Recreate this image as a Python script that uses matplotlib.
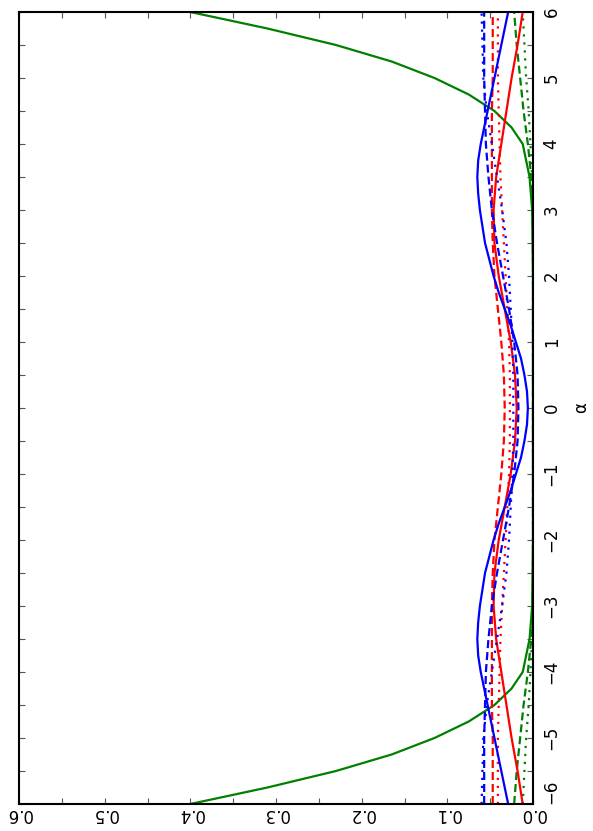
import numpy as np
import matplotlib.pyplot as plt
from matplotlib.ticker import MultipleLocator

# alpha grid shared by most curves
alpha = [-6, -5.5, -5, -4.5, -4, -3.5, -3, -2.5, -2, -1.5, -1, -0.5, 0,
         0.5, 1, 1.5, 2, 2.5, 3, 3.5, 4, 4.5, 5, 5.5, 6]

# finer grid for the steep green curve
alpha_g = [-6, -5.75, -5.5, -5.25, -5, -4.75, -4.5, -4.25, -4, -3.5, -3, -2.5, -2, -1, 0,
           1, 2, 2.5, 3, 3.5, 4, 4.25, 4.5, 4.75, 5, 5.25, 5.5, 5.75, 6]
green_solid = [0.40, 0.31, 0.23, 0.165, 0.115, 0.075, 0.045, 0.025, 0.012, 0.004, 0.001, 0.0005, 0.0, 0.0, 0.0,
               0.0, 0.0, 0.0005, 0.001, 0.004, 0.012, 0.025, 0.045, 0.075, 0.115, 0.165, 0.23, 0.31, 0.40]

# finer grid for the blue solid curve
alpha_b = [-6, -5.5, -5, -4.5, -4, -3.75, -3.5, -3.25, -3, -2.75, -2.5, -2.25, -2, -1.75, -1.5,
           -1.25, -1, -0.75, -0.5, -0.25, 0, 0.25, 0.5, 0.75, 1, 1.25, 1.5, 1.75, 2, 2.25, 2.5,
           2.75, 3, 3.25, 3.5, 3.75, 4, 4.5, 5, 5.5, 6]
blue_solid = [0.029, 0.037, 0.045, 0.053, 0.061, 0.064, 0.065, 0.064, 0.062, 0.059, 0.056, 0.051, 0.046,
              0.040, 0.033, 0.026, 0.020, 0.014, 0.010, 0.007, 0.006, 0.007, 0.010, 0.014, 0.020, 0.026,
              0.033, 0.040, 0.046, 0.051, 0.056, 0.059, 0.062, 0.064, 0.065, 0.064, 0.061, 0.053, 0.045,
              0.037, 0.029]

green_dashed = [0.022, 0.019, 0.015, 0.011, 0.006, 0.002, 0.0005, 0, 0, 0, 0, 0, 0,
                0, 0, 0, 0, 0, 0.0005, 0.002, 0.006, 0.011, 0.015, 0.019, 0.022]
green_dotted = [0.012, 0.010, 0.008, 0.005, 0.003, 0.001, 0, 0, 0, 0, 0, 0, 0,
                0, 0, 0, 0, 0, 0, 0.001, 0.003, 0.005, 0.008, 0.010, 0.012]

red_solid = [0.012, 0.018, 0.025, 0.031, 0.037, 0.043, 0.046, 0.045, 0.040, 0.033, 0.026, 0.021, 0.019,
             0.021, 0.026, 0.033, 0.040, 0.045, 0.046, 0.043, 0.037, 0.031, 0.025, 0.018, 0.012]
red_dashed = [0.047, 0.047, 0.047, 0.048, 0.048, 0.048, 0.048, 0.047, 0.045, 0.041, 0.037, 0.034, 0.033,
              0.034, 0.037, 0.041, 0.045, 0.047, 0.048, 0.048, 0.048, 0.048, 0.047, 0.047, 0.047]
red_dotted = [0.041, 0.041, 0.041, 0.040, 0.039, 0.038, 0.036, 0.034, 0.032, 0.030, 0.028, 0.027, 0.027,
              0.027, 0.028, 0.030, 0.032, 0.034, 0.036, 0.038, 0.039, 0.040, 0.041, 0.041, 0.041]

blue_dashed = [0.057, 0.057, 0.057, 0.056, 0.055, 0.052, 0.048, 0.042, 0.035, 0.028, 0.022, 0.018, 0.017,
               0.018, 0.022, 0.028, 0.035, 0.042, 0.048, 0.052, 0.055, 0.056, 0.057, 0.057, 0.057]
blue_dotted = [0.060, 0.059, 0.058, 0.054, 0.048, 0.042, 0.036, 0.031, 0.028, 0.026, 0.024, 0.023, 0.023,
               0.023, 0.024, 0.026, 0.028, 0.031, 0.036, 0.042, 0.048, 0.054, 0.058, 0.059, 0.060]

GREEN = '#008000'
RED = '#ff0000'
BLUE = '#0000ff'
dash = (0, (3.6, 1.8))
dot = (0, (1.0, 2.6))

fig = plt.figure(figsize=(5.93, 8.31), dpi=100)
ax = fig.add_axes([19 / 593, 1 - 804 / 831, 514 / 593, 792 / 831])

lw = 1.6
# the plot is drawn turned on its side: alpha runs up the page
ax.plot(green_solid, alpha_g, color=GREEN, lw=lw)
ax.plot(green_dashed, alpha, color=GREEN, lw=lw, linestyle=dash)
ax.plot(green_dotted, alpha, color=GREEN, lw=lw, linestyle=dot)
ax.plot(red_solid, alpha, color=RED, lw=lw)
ax.plot(red_dashed, alpha, color=RED, lw=lw, linestyle=dash)
ax.plot(red_dotted, alpha, color=RED, lw=lw, linestyle=dot)
ax.plot(blue_solid, alpha_b, color=BLUE, lw=lw)
ax.plot(blue_dashed, alpha, color=BLUE, lw=lw, linestyle=dash)
ax.plot(blue_dotted, alpha, color=BLUE, lw=lw, linestyle=dot)

ax.set_xlim(0.6, 0.0)
ax.set_ylim(-6, 6)

for s in ax.spines.values():
    s.set_linewidth(1.5)

ax.xaxis.set_major_locator(MultipleLocator(0.1))
ax.xaxis.set_minor_locator(MultipleLocator(0.05))
ax.yaxis.set_major_locator(MultipleLocator(1))
ax.yaxis.set_minor_locator(MultipleLocator(0.5))
ax.tick_params(which='both', direction='in', top=True, bottom=True, left=True, right=True,
               color='#555555', width=0.8)
ax.tick_params(which='major', length=4.5)
ax.tick_params(which='minor', length=4)
ax.tick_params(axis='y', labelleft=False, labelright=True, labelsize=12, pad=7)
ax.tick_params(axis='x', labelsize=12, pad=1)

ax.set_xticks(np.arange(0, 0.61, 0.1))
ax.set_xticklabels(['0.0', '0.1', '0.2', '0.3', '0.4', '0.5', '0.6'], rotation=180)
ax.set_yticks(range(-6, 7))
ax.set_yticklabels(['\u22126', '\u22125', '\u22124', '\u22123', '\u22122', '\u22121',
                    '0', '1', '2', '3', '4', '5', '6'], rotation=90, va='center')
ax.get_yticklabels()[0].set_va('bottom')

ax.yaxis.set_label_position('right')
ax.set_ylabel('\u03b1', rotation=90, fontsize=12, labelpad=8)

fig.savefig('out.png', dpi=100)
